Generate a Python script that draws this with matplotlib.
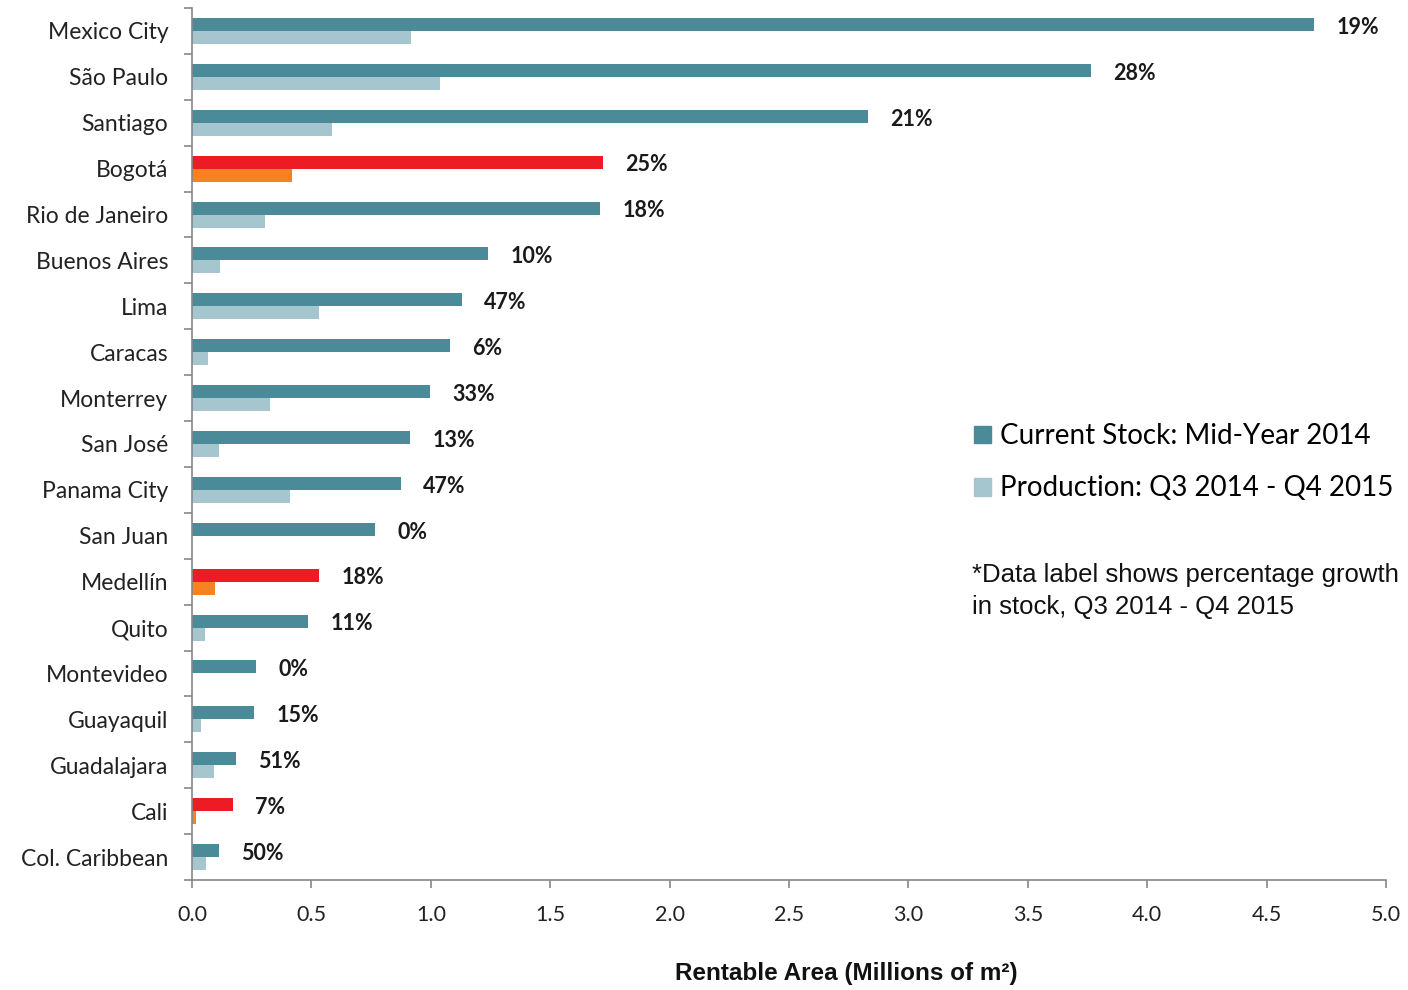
import numpy as np
import matplotlib.pyplot as plt
from matplotlib.patches import Patch

cities = ["Mexico City", "São Paulo", "Santiago", "Bogotá", "Rio de Janeiro",
          "Buenos Aires", "Lima", "Caracas", "Monterrey", "San José",
          "Panama City", "San Juan", "Medellín", "Quito", "Montevideo",
          "Guayaquil", "Guadalajara", "Cali", "Col. Caribbean"]
current_stock = [4.70, 3.765, 2.83, 1.72, 1.71, 1.24, 1.13, 1.08, 0.997, 0.913,
                 0.875, 0.766, 0.532, 0.486, 0.268, 0.26, 0.184, 0.172, 0.113]
production = [0.917, 1.04, 0.586, 0.42, 0.305, 0.117, 0.53, 0.067, 0.327, 0.113,
              0.41, 0.0, 0.096, 0.054, 0.0, 0.038, 0.092, 0.017, 0.059]
growth_pct = [19, 28, 21, 25, 18, 10, 47, 6, 33, 13, 47, 0, 18, 11, 0, 15, 51, 7, 50]
colombia = ["Bogotá", "Medellín", "Cali"]

TEAL = "#4a8a99"
TEAL_LIGHT = "#a5c6ce"
RED = "#ed1c24"
ORANGE = "#f7821f"

cur_colors = [RED if c in colombia else TEAL for c in cities]
prod_colors = [ORANGE if c in colombia else TEAL_LIGHT for c in cities]

fig = plt.figure(figsize=(14.08, 9.9), dpi=100)
ax = fig.add_axes([192 / 1408, 1 - 880 / 990, (1386 - 192) / 1408, (880 - 8) / 990])

y = np.arange(len(cities))
h = 0.283
ax.barh(y - h / 2, current_stock, height=h, color=cur_colors)
ax.barh(y + h / 2, production, height=h, color=prod_colors)

# growth labels sit next to the current-stock bar
for yi, val, pct in zip(y, current_stock, growth_pct):
    ax.annotate(f"{pct}%", (val, yi - h / 2), xytext=(16, -2), textcoords="offset points",
                va="center", ha="left", fontsize=15.5, fontweight="bold",
                family="Lato", color="#1a1a1a")

ax.set_xlim(0, 5)
ax.set_ylim(len(cities) - 0.5, -0.5)
ax.set_xticks(np.arange(0, 5.01, 0.5))
ax.set_xticklabels([f"{v:.1f}" for v in np.arange(0, 5.01, 0.5)],
                   family="Lato", fontsize=15.5, color="#222222")
ax.set_yticks(y)
ax.set_yticklabels(cities, family="Lato", fontsize=16.5, color="#222222")
ax.set_yticks(np.arange(-0.5, len(cities), 1), minor=True)
ax.tick_params(axis="y", which="major", length=0, pad=17)
ax.tick_params(axis="y", which="minor", length=6, width=1.2, color="#888888", direction="out")
ax.tick_params(axis="x", which="major", length=6, width=1.2, color="#888888", pad=12)

for s in ["top", "right"]:
    ax.spines[s].set_visible(False)
for s in ["left", "bottom"]:
    ax.spines[s].set_color("#888888")
    ax.spines[s].set_linewidth(1.2)

ax.set_xlabel("Rentable Area (Millions of m²)", family="Liberation Sans",
              fontsize=17.5, fontweight="bold", color="#111111")
ax.xaxis.set_label_coords((846 - 192) / (1386 - 192), -0.094)

handles = [Patch(color=TEAL, label="Current Stock: Mid-Year 2014"),
           Patch(color=TEAL_LIGHT, label="Production: Q3 2014 - Q4 2015")]
leg = ax.legend(handles=handles, loc="upper left", bbox_to_anchor=(963 / 1408, 1 - 412 / 990),
                bbox_transform=fig.transFigure, frameon=False, prop={"family": "Lato", "size": 20},
                handlelength=0.6, handleheight=0.6, handletextpad=0.35, labelspacing=0.95,
                borderaxespad=0)

fig.text(972 / 1408, 1 - 591 / 990, "*Data label shows percentage growth\nin stock, Q3 2014 - Q4 2015",
         family="Liberation Sans", fontsize=18.5, va="center",
         ha="left", linespacing=1.45, color="#111111")

fig.savefig("out.png", dpi=100)
